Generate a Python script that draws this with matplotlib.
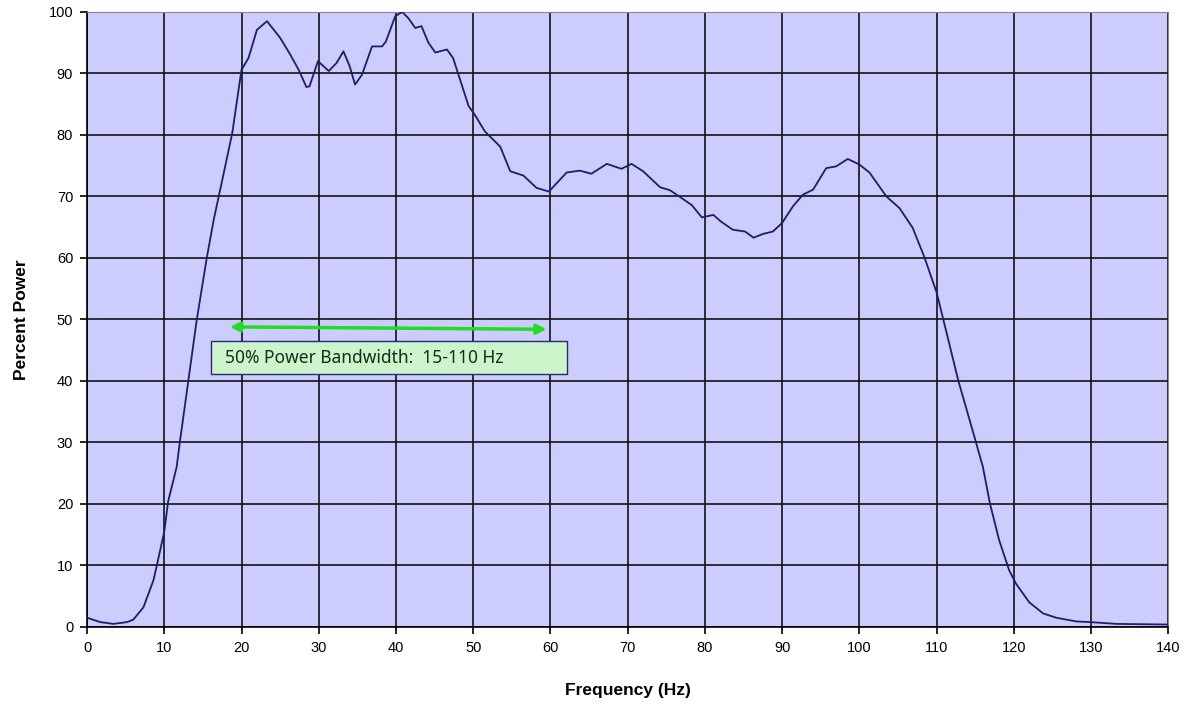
import matplotlib.pyplot as plt
from matplotlib.patches import Rectangle
import numpy as np

# Power spectrum
freq = [0, 1.7, 3.4, 5.2, 6.0, 7.3, 8.6, 9.0, 10.0, 10.5, 11.6, 12.0, 13.1, 14.2,
        15.5, 16.4, 17.7, 18.8, 20.0, 20.9, 22.0, 23.3, 25.0, 26.3, 27.4, 28.4,
        28.8, 29.9, 31.3, 32.3, 33.2, 34.0, 34.7, 35.6, 36.9, 38.2, 38.7, 39.9,
        40.8, 41.6, 42.5, 43.3, 44.2, 45.1, 46.6, 47.4, 48.3, 49.4, 50.2, 51.5,
        53.5, 54.8, 56.5, 58.2, 59.8, 62.1, 63.8, 65.3, 67.3, 69.2, 70.5, 72.0,
        74.2, 75.5, 76.8, 78.3, 79.6, 81.1, 82.1, 83.6, 85.2, 86.3, 87.5, 88.8,
        90.0, 91.4, 92.7, 94.0, 95.7, 97.0, 98.5, 100.0, 101.3, 103.5, 105.2,
        106.9, 108.4, 110.0, 111.3, 112.8, 114.9, 116.0, 116.9, 118.1, 119.4,
        120.3, 122.0, 123.8, 125.5, 128.1, 129.8, 133.3, 140.0]
power = [1.5, 0.8, 0.5, 0.8, 1.2, 3.2, 7.6, 9.8, 15.5, 20.4, 26.0, 29.9, 39.9, 49.9,
         60.0, 66.2, 73.8, 80.3, 90.6, 92.5, 97.1, 98.5, 95.8, 93.1, 90.6, 87.8,
         87.9, 92.0, 90.4, 91.7, 93.6, 91.2, 88.2, 89.8, 94.4, 94.4, 95.2, 99.3,
         100.0, 99.0, 97.4, 97.7, 95.0, 93.4, 93.9, 92.5, 89.0, 84.7, 83.3, 80.6,
         78.1, 74.1, 73.4, 71.4, 70.8, 73.9, 74.2, 73.7, 75.3, 74.5, 75.3, 74.1,
         71.5, 71.0, 69.9, 68.6, 66.6, 67.0, 65.9, 64.6, 64.3, 63.3, 63.9, 64.3,
         65.7, 68.4, 70.3, 71.1, 74.6, 74.9, 76.1, 75.2, 73.9, 70.0, 68.1,
         64.9, 60.2, 54.4, 47.8, 40.1, 30.9, 26.0, 20.1, 14.1, 9.2,
         7.0, 4.0, 2.2, 1.5, 0.9, 0.8, 0.5, 0.4]

band_label = "50% Power Bandwidth:  15-110 Hz"
band_arrow = (18.5, 59.5)   # arrow ends (Hz)

fig = plt.figure(figsize=(11.89, 7.04), dpi=100)
ax = fig.add_axes([0.0732, 0.1094, 0.9094, 0.8736])
ax.set_facecolor('#ccccff')

ax.plot(freq, power, color='#1c1c70', lw=1.3, zorder=3)

ax.set_xlim(0, 140)
ax.set_ylim(0, 100)
ax.set_xticks(np.arange(0, 141, 10))
ax.set_yticks(np.arange(0, 101, 10))
ax.grid(True, color='#111111', lw=1.2, zorder=1)
ax.set_axisbelow(True)

for s in ['top', 'right']:
    ax.spines[s].set_color('#888888')
for s in ['left', 'bottom']:
    ax.spines[s].set_color('black')
    ax.spines[s].set_linewidth(1.2)

ax.tick_params(direction='out', length=5, width=1.2, labelsize=10.5, pad=5)
for lbl in ax.get_xticklabels() + ax.get_yticklabels():
    lbl.set_family('Liberation Sans')

ax.set_xlabel('Frequency (Hz)', fontsize=12.5, fontweight='bold',
              family='Liberation Sans', labelpad=20)
ax.set_ylabel('Percent Power', fontsize=12.5, fontweight='bold',
              family='Liberation Sans', labelpad=14)

# bandwidth arrow
ax.annotate('', xy=(band_arrow[0], 48.8), xytext=(band_arrow[1], 48.4),
            arrowprops=dict(arrowstyle='<|-|>', color='#22dd22', lw=2.5,
                            mutation_scale=14, shrinkA=0, shrinkB=0), zorder=4)

# label box
ax.add_patch(Rectangle((16.1, 41.1), 46.0, 5.4, facecolor='#ccf5cc',
                       edgecolor='#2a2a70', lw=1.0, zorder=5))
ax.text(17.9, 43.8, band_label, fontsize=12.5, family='Noto Sans',
        color='#1a2a1a', va='center', ha='left', zorder=6)

fig.savefig('out.png', dpi=100, facecolor='white')
